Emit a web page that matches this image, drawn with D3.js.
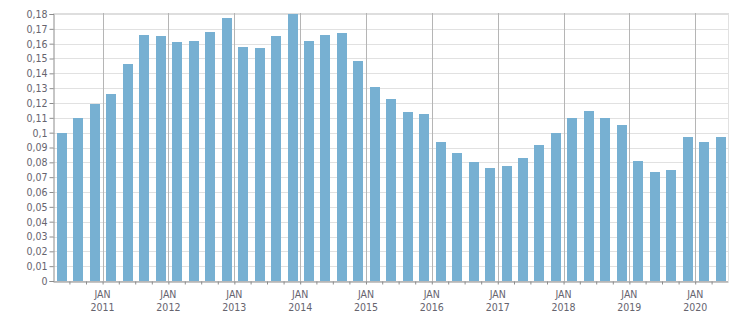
<!DOCTYPE html>
<html>
<head>
<meta charset="utf-8">
<script src="https://cdn.jsdelivr.net/npm/d3@7"></script>
<style>
body{margin:0;background:#fff;}
svg text{font-family:"DejaVu Sans Condensed","DejaVu Sans",sans-serif;font-size:10.5px;fill:#66646e;}
</style>
</head>
<body>
<div id="chart"></div>
<script>
// quarterly values, Q2 2010 .. Q2 2020
var quarters = ["2010-04","2010-07","2010-10","2011-01","2011-04","2011-07","2011-10","2012-01","2012-04","2012-07","2012-10",
  "2013-01","2013-04","2013-07","2013-10","2014-01","2014-04","2014-07","2014-10","2015-01","2015-04","2015-07","2015-10",
  "2016-01","2016-04","2016-07","2016-10","2017-01","2017-04","2017-07","2017-10","2018-01","2018-04","2018-07","2018-10",
  "2019-01","2019-04","2019-07","2019-10","2020-01","2020-04"];
var values = [0.100,0.110,0.119,0.126,0.146,0.166,0.165,0.161,0.162,0.168,0.177,
  0.158,0.157,0.165,0.180,0.162,0.166,0.167,0.148,0.131,0.123,0.114,0.1125,
  0.0935,0.086,0.080,0.076,0.0775,0.083,0.092,0.100,0.110,0.1145,0.110,0.105,
  0.081,0.0735,0.075,0.097,0.0935,0.097];
var yTicks = [0,0.01,0.02,0.03,0.04,0.05,0.06,0.07,0.08,0.09,0.1,0.11,0.12,0.13,0.14,0.15,0.16,0.17,0.18];

var width=751,height=313;
var margin={top:14,right:23,bottom:32,left:53};
var parse=d3.timeParse("%Y-%m");
var data=quarters.map(function(q,i){return {date:parse(q),value:values[i]};});

var locale=d3.formatLocale({decimal:",",thousands:" ",grouping:[3],currency:["",""]});
var fmt=locale.format(".2~f");

var svg=d3.select("#chart").append("svg")
  .attr("width",width).attr("height",height);

var x=d3.scaleTime()
  .domain([parse("2010-04"),parse("2020-07")])
  .range([margin.left,width-margin.right]);
var y=d3.scaleLinear()
  .domain([0,0.18])
  .range([height-margin.bottom,margin.top]);

// horizontal grid
svg.append("g").selectAll("line").data(yTicks).enter().append("line")
  .attr("x1",margin.left).attr("x2",width-margin.right)
  .attr("y1",function(d){return Math.round(y(d))+0.5;})
  .attr("y2",function(d){return Math.round(y(d))+0.5;})
  .attr("stroke","#e1e1e1");

// top + right border
svg.append("line").attr("x1",margin.left).attr("x2",width-margin.right+1)
  .attr("y1",margin.top).attr("y2",margin.top)
  .attr("stroke","#dedede").attr("stroke-width",2);
svg.append("line").attr("x1",width-margin.right+0.5).attr("x2",width-margin.right+0.5)
  .attr("y1",margin.top).attr("y2",height-margin.bottom)
  .attr("stroke","#e1e1e1");

// year gridlines
var years=x.ticks(d3.timeYear.every(1)).filter(function(d){return d>x.domain()[0];});
svg.append("g").selectAll("line").data(years).enter().append("line")
  .attr("x1",function(d){return Math.round(x(d))+0.5;})
  .attr("x2",function(d){return Math.round(x(d))+0.5;})
  .attr("y1",margin.top-1).attr("y2",height-margin.bottom)
  .attr("stroke","#b5b5b5");

// bars
svg.append("g").selectAll("rect").data(data).enter().append("rect")
  .attr("x",function(d){
    var x0=x(d.date),x1=x(d3.timeMonth.offset(d.date,3));
    return Math.round(x0+(x1-x0)*0.24);
  })
  .attr("width",10)
  .attr("y",function(d){return Math.round(y(d.value));})
  .attr("height",function(d){return y(0)-Math.round(y(d.value));})
  .attr("fill","#77b0d2");

// y axis
var yAxis=svg.append("g")
  .attr("transform","translate("+(margin.left+0.5)+",0)")
  .call(d3.axisLeft(y).tickValues(yTicks).tickFormat(fmt).tickSize(4).tickPadding(2));
yAxis.select(".domain").attr("stroke","#8c8c8c");
yAxis.selectAll(".tick line").attr("stroke","#8c8c8c");
yAxis.selectAll("text").attr("fill","#66646e").style("font-size","10.5px");

// x axis: quarter ticks
var qTicks=d3.timeMonth.every(3).range(parse("2010-07"),parse("2020-07"));
var xAxis=svg.append("g")
  .attr("transform","translate(0,"+(height-margin.bottom+0.5)+")")
  .call(d3.axisBottom(x).tickValues(qTicks).tickFormat("").tickSize(3).tickSizeOuter(0));
xAxis.select(".domain").attr("stroke","#8c8c8c");
xAxis.selectAll(".tick line").attr("stroke","#8c8c8c");

// year labels
var lab=svg.append("g").selectAll("text").data(years).enter().append("text")
  .attr("text-anchor","middle")
  .attr("x",function(d){return x(d);});
lab.append("tspan").attr("x",function(d){return x(d);}).attr("y",298).text("JAN");
lab.append("tspan").attr("x",function(d){return x(d);}).attr("y",311).text(function(d){return d.getFullYear();});
</script>
</body>
</html>
